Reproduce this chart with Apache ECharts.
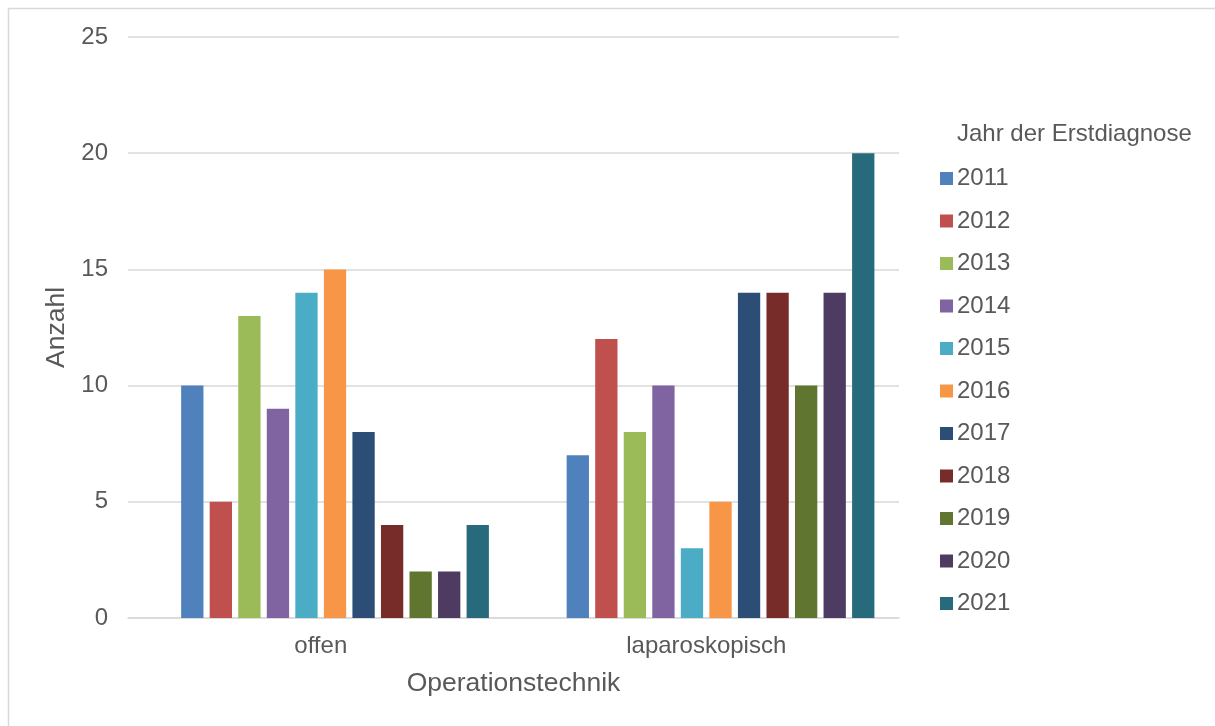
<!DOCTYPE html>
<html>
<head>
<meta charset="utf-8">
<script src="https://cdn.jsdelivr.net/npm/echarts@6/dist/echarts.min.js"></script>
<style>
	html,body{margin:0;padding:0;background:#fff;}
	#chart{width:1215px;height:726px;}
</style>
</head>
<body>
<div id="chart"></div>
<script>
	// Kategorien und Werte
	var techniken = ['offen', 'laparoskopisch'];
	var jahre = ['2011','2012','2013','2014','2015','2016','2017','2018','2019','2020','2021'];
	var offen = [10, 5, 13, 9, 14, 15, 8, 4, 2, 2, 4];
	var laparoskopisch = [7, 12, 8, 10, 3, 5, 14, 14, 10, 14, 20];
	var farben = ['#4F81BD','#C0504D','#9BBB59','#8064A2','#4BACC6','#F79646',
		'#2C4D75','#772C2A','#5F7530','#4D3B62','#276A7C'];

	var schrift = 'Liberation Sans, Arial, sans-serif';
	var grau = '#595959';

	// leere Serie vorne, damit die Gruppe wie im Original nach rechts rückt
	var series = [{
		name: '_leer',
		type: 'bar',
		barWidth: 22.3,
		barGap: '28%',
		silent: true,
		itemStyle: {color: 'rgba(0,0,0,0)'},
		data: [0, 0]
	}];
	for (var i = 0; i < jahre.length; i++) {
		series.push({
			name: jahre[i],
			type: 'bar',
			barWidth: 22.3,
			barGap: '28%',
			itemStyle: {color: farben[i]},
			data: [offen[i], laparoskopisch[i]]
		});
	}

	var chart = echarts.init(document.getElementById('chart'));
	var option = {
		animation: false,
		textStyle: {fontFamily: schrift},
		title: {
			text: 'Jahr der Erstdiagnose',
			left: 957,
			top: 122,
			padding: 0,
			textStyle: {fontFamily: schrift, fontSize: 24, lineHeight: 24, fontWeight: 'normal', color: grau}
		},
		legend: {
			orient: 'vertical',
			left: 940,
			top: 166.5,
			padding: 0,
			itemWidth: 13,
			itemHeight: 13,
			itemGap: 18.5,
			icon: 'rect',
			textStyle: {fontFamily: schrift, fontSize: 24, color: grau, lineHeight: 24, padding: [0, 0, 0, -1]},
			data: jahre
		},
		grid: {left: 128, right: 316, top: 37, bottom: 108},
		xAxis: {
			type: 'category',
			data: techniken,
			name: 'Operationstechnik',
			nameLocation: 'middle',
			nameGap: 52,
			nameTextStyle: {fontFamily: schrift, fontSize: 26.5, lineHeight: 26.5, color: grau},
			axisLine: {lineStyle: {color: '#d9d9d9', width: 1.5}},
			axisTick: {show: false},
			axisLabel: {fontFamily: schrift, fontSize: 24, lineHeight: 24, color: grau, margin: 16}
		},
		yAxis: {
			type: 'value',
			min: 0,
			max: 25,
			interval: 5,
			name: 'Anzahl',
			nameLocation: 'middle',
			nameGap: 57,
			nameTextStyle: {fontFamily: schrift, fontSize: 26.5, lineHeight: 26.5, color: grau},
			axisLine: {show: false},
			axisTick: {show: false},
			axisLabel: {fontFamily: schrift, fontSize: 24, color: grau, margin: 20},
			splitLine: {lineStyle: {color: '#d9d9d9', width: 1.5}}
		},
		graphic: [{
			type: 'rect',
			shape: {x: 8.5, y: 8.5, width: 1300, height: 800},
			style: {fill: 'none', stroke: '#d9d9d9', lineWidth: 1.5},
			silent: true,
			z: -1
		}],
		series: series
	};
	chart.setOption(option);
</script>
</body>
</html>
